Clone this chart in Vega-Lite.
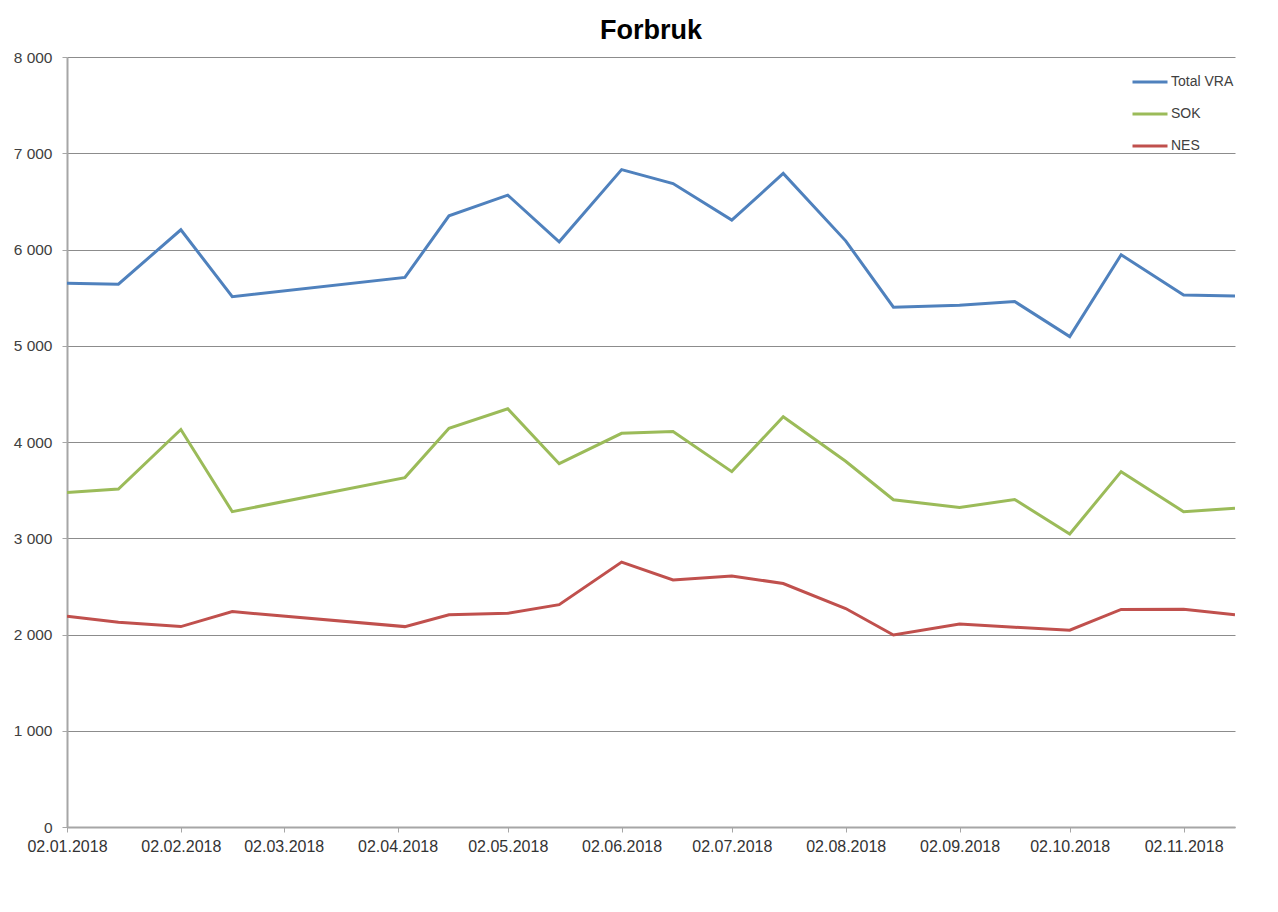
{
  "$schema": "https://vega.github.io/schema/vega-lite/v6.json",
  "width": 1168,
  "height": 770,
  "autosize": {"type": "none"},
  "padding": {"left": 67, "top": 57, "right": 43, "bottom": 85},
  "background": "white",
  "title": {
    "text": "Forbruk",
    "font": "Liberation Sans",
    "fontSize": 27,
    "fontWeight": "bold",
    "color": "#000000",
    "anchor": "middle",
    "offset": 5
  },
  "data": {
    "values": [
      {"date": "2018-01-02T00:00:00", "series": "Total VRA", "value": 5650},
      {"date": "2018-01-16T00:00:00", "series": "Total VRA", "value": 5640},
      {"date": "2018-02-02T00:00:00", "series": "Total VRA", "value": 6205},
      {"date": "2018-02-16T00:00:00", "series": "Total VRA", "value": 5510},
      {"date": "2018-04-04T00:00:00", "series": "Total VRA", "value": 5710},
      {"date": "2018-04-16T00:00:00", "series": "Total VRA", "value": 6350},
      {"date": "2018-05-02T00:00:00", "series": "Total VRA", "value": 6565},
      {"date": "2018-05-16T00:00:00", "series": "Total VRA", "value": 6080},
      {"date": "2018-06-02T00:00:00", "series": "Total VRA", "value": 6830},
      {"date": "2018-06-16T00:00:00", "series": "Total VRA", "value": 6685},
      {"date": "2018-07-02T00:00:00", "series": "Total VRA", "value": 6305},
      {"date": "2018-07-16T00:00:00", "series": "Total VRA", "value": 6790},
      {"date": "2018-08-02T00:00:00", "series": "Total VRA", "value": 6090},
      {"date": "2018-08-15T00:00:00", "series": "Total VRA", "value": 5400},
      {"date": "2018-09-02T00:00:00", "series": "Total VRA", "value": 5420},
      {"date": "2018-09-17T00:00:00", "series": "Total VRA", "value": 5460},
      {"date": "2018-10-02T00:00:00", "series": "Total VRA", "value": 5095},
      {"date": "2018-10-16T00:00:00", "series": "Total VRA", "value": 5945},
      {"date": "2018-11-02T00:00:00", "series": "Total VRA", "value": 5527},
      {"date": "2018-11-16T00:00:00", "series": "Total VRA", "value": 5517},
      {"date": "2018-01-02T00:00:00", "series": "SOK", "value": 3475},
      {"date": "2018-01-16T00:00:00", "series": "SOK", "value": 3512},
      {"date": "2018-02-02T00:00:00", "series": "SOK", "value": 4130},
      {"date": "2018-02-16T00:00:00", "series": "SOK", "value": 3276},
      {"date": "2018-04-04T00:00:00", "series": "SOK", "value": 3630},
      {"date": "2018-04-16T00:00:00", "series": "SOK", "value": 4142},
      {"date": "2018-05-02T00:00:00", "series": "SOK", "value": 4345},
      {"date": "2018-05-16T00:00:00", "series": "SOK", "value": 3775},
      {"date": "2018-06-02T00:00:00", "series": "SOK", "value": 4090},
      {"date": "2018-06-16T00:00:00", "series": "SOK", "value": 4110},
      {"date": "2018-07-02T00:00:00", "series": "SOK", "value": 3692},
      {"date": "2018-07-16T00:00:00", "series": "SOK", "value": 4262},
      {"date": "2018-08-02T00:00:00", "series": "SOK", "value": 3800},
      {"date": "2018-08-15T00:00:00", "series": "SOK", "value": 3400},
      {"date": "2018-09-02T00:00:00", "series": "SOK", "value": 3320},
      {"date": "2018-09-17T00:00:00", "series": "SOK", "value": 3403},
      {"date": "2018-10-02T00:00:00", "series": "SOK", "value": 3044},
      {"date": "2018-10-16T00:00:00", "series": "SOK", "value": 3692},
      {"date": "2018-11-02T00:00:00", "series": "SOK", "value": 3276},
      {"date": "2018-11-16T00:00:00", "series": "SOK", "value": 3311},
      {"date": "2018-01-02T00:00:00", "series": "NES", "value": 2190},
      {"date": "2018-01-16T00:00:00", "series": "NES", "value": 2128},
      {"date": "2018-02-02T00:00:00", "series": "NES", "value": 2082},
      {"date": "2018-02-16T00:00:00", "series": "NES", "value": 2238},
      {"date": "2018-04-04T00:00:00", "series": "NES", "value": 2082},
      {"date": "2018-04-16T00:00:00", "series": "NES", "value": 2205},
      {"date": "2018-05-02T00:00:00", "series": "NES", "value": 2220},
      {"date": "2018-05-16T00:00:00", "series": "NES", "value": 2310},
      {"date": "2018-06-02T00:00:00", "series": "NES", "value": 2752},
      {"date": "2018-06-16T00:00:00", "series": "NES", "value": 2566},
      {"date": "2018-07-02T00:00:00", "series": "NES", "value": 2608},
      {"date": "2018-07-16T00:00:00", "series": "NES", "value": 2530},
      {"date": "2018-08-02T00:00:00", "series": "NES", "value": 2270},
      {"date": "2018-08-15T00:00:00", "series": "NES", "value": 1995},
      {"date": "2018-09-02T00:00:00", "series": "NES", "value": 2109},
      {"date": "2018-09-17T00:00:00", "series": "NES", "value": 2075},
      {"date": "2018-10-02T00:00:00", "series": "NES", "value": 2045},
      {"date": "2018-10-16T00:00:00", "series": "NES", "value": 2260},
      {"date": "2018-11-02T00:00:00", "series": "NES", "value": 2262},
      {"date": "2018-11-16T00:00:00", "series": "NES", "value": 2205}
    ]
  },
  "mark": {"type": "line", "strokeWidth": 3, "strokeJoin": "miter", "clip": true},
  "encoding": {
    "x": {
      "field": "date",
      "type": "temporal",
      "title": null,
      "scale": {
        "domain": [
          {"year": 2018, "month": 1, "date": 2},
          {"year": 2018, "month": 11, "date": 16}
        ],
        "nice": false
      },
      "axis": {
        "values": [
          {"year": 2018, "month": 1, "date": 2},
          {"year": 2018, "month": 2, "date": 2},
          {"year": 2018, "month": 3, "date": 2},
          {"year": 2018, "month": 4, "date": 2},
          {"year": 2018, "month": 5, "date": 2},
          {"year": 2018, "month": 6, "date": 2},
          {"year": 2018, "month": 7, "date": 2},
          {"year": 2018, "month": 8, "date": 2},
          {"year": 2018, "month": 9, "date": 2},
          {"year": 2018, "month": 10, "date": 2},
          {"year": 2018, "month": 11, "date": 2}
        ],
        "format": "%d.%m.%Y",
        "grid": false,
        "domainColor": "#a6a6a6",
        "domainWidth": 2,
        "tickColor": "#a6a6a6",
        "tickSize": 5,
        "tickWidth": 1,
        "labelFont": "Liberation Sans",
        "labelFontSize": 16,
        "labelColor": "#333333",
        "labelPadding": 6,
        "labelAngle": 0,
        "labelFlush": false,
        "labelOverlap": false
      }
    },
    "y": {
      "field": "value",
      "type": "quantitative",
      "title": null,
      "scale": {"domain": [0, 8000], "nice": false},
      "axis": {
        "values": [0, 1000, 2000, 3000, 4000, 5000, 6000, 7000, 8000],
        "labelExpr": "replace(format(datum.value, ','), ',', ' ')",
        "grid": true,
        "gridColor": "#8c8c8c",
        "gridWidth": 1,
        "domainColor": "#a6a6a6",
        "domainWidth": 2,
        "tickColor": "#a6a6a6",
        "tickSize": 5,
        "labelFont": "Liberation Sans",
        "labelFontSize": 15.5,
        "labelColor": "#404040",
        "labelPadding": 10
      }
    },
    "color": {
      "field": "series",
      "type": "nominal",
      "scale": {
        "domain": ["Total VRA", "SOK", "NES"],
        "range": ["#4f81bd", "#9bbb59", "#c0504d"]
      },
      "legend": {
        "title": null,
        "orient": "none",
        "legendX": 1064,
        "legendY": 6,
        "symbolType": "stroke",
        "symbolSize": 1225,
        "symbolStrokeWidth": 3,
        "labelFont": "Liberation Sans",
        "labelFontSize": 14,
        "labelColor": "#404040",
        "labelOffset": 2,
        "rowPadding": 6
      }
    }
  },
  "config": {
    "view": {"stroke": null}
  }
}
